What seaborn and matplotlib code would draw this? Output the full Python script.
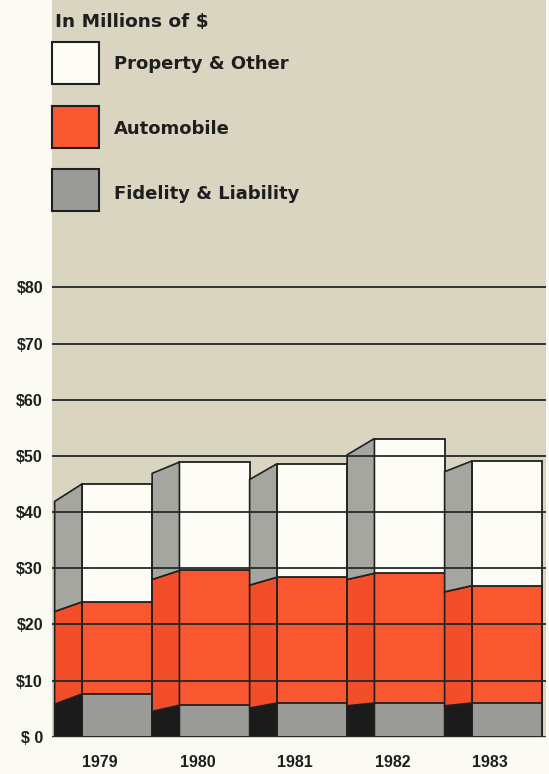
import matplotlib
matplotlib.use("Agg")
import matplotlib.pyplot as plt
import seaborn as sns
import pandas as pd
from matplotlib.patches import Rectangle, Polygon

# ---------------- data ($ millions) ----------------
years = ["1979", "1980", "1981", "1982", "1983"]
fidelity_liability = [7.6, 5.6, 6.0, 6.0, 6.0]
automobile = [16.4, 24.0, 22.4, 23.1, 20.9]
property_other = [21.0, 19.3, 20.2, 24.0, 22.2]
# cumulative heights at the far (left) edge of each receding side face
side_fidelity_top = [5.8, 4.5, 5.1, 5.5, 5.5]
side_automobile_top = [22.3, 28.0, 27.0, 28.0, 25.8]
side_total_top = [41.9, 46.9, 45.8, 50.2, 47.2]

y_ticks = [0, 10, 20, 30, 40, 50, 60, 70, 80]
y_tick_labels = ["$ 0", "$10", "$20", "$30", "$40", "$50", "$60", "$70", "$80"]
series_labels = ["Property & Other", "Automobile", "Fidelity & Liability"]
legend_title = "In Millions of $"

# ---------------- styles ----------------
W, H = 549, 774
PAPER = "#fbfaf3"
BEIGE = "#d9d5c1"
WHITE = "#fdfdf6"
ORANGE = "#f9572f"
ORANGE_SIDE = "#f14e29"
GRAY = "#9b9b97"
GRAY_SIDE = "#a6a6a0"
BLACK = "#1b1b1b"
EDGE = "#1f1f1f"
GRID = "#1f2a2a"
TEXT = "#1e1e1e"

sns.set_theme(style="white")
plt.rcParams["font.family"] = ["Liberation Sans", "DejaVu Sans"]

fig = plt.figure(figsize=(W / 100, H / 100), dpi=100, facecolor=PAPER)


def fx(px):
    return px / W


def fy(py):
    return 1 - py / H


# textured beige panel behind the chart
fig.patches.append(Rectangle((fx(52), fy(738)), fx(546) - fx(52), fy(0) - fy(738),
                             transform=fig.transFigure, facecolor=BEIGE,
                             edgecolor="none", zorder=-1))

y0_px = 736.7
px_per_unit = 5.615
ymax = 85
ax = fig.add_axes([fx(52), 1 - y0_px / H, fx(546) - fx(52), ymax * px_per_unit / H])
ax.patch.set_visible(False)

df = pd.DataFrame({"year": years,
                   "fid": fidelity_liability,
                   "auto": automobile,
                   "prop": property_other})
df["auto_top"] = df["fid"] + df["auto"]
df["total"] = df["auto_top"] + df["prop"]

bar_w = 0.72
depth = 0.28
for col, color in [("total", WHITE), ("auto_top", ORANGE), ("fid", GRAY)]:
    sns.barplot(data=df, x="year", y=col, color=color, saturation=1, width=bar_w,
                edgecolor=EDGE, linewidth=1.3, errorbar=None, ax=ax)

# receding left side faces
front_left = [p.get_x() for p in ax.patches[:len(years)]]
zeros = [0] * len(years)
layers = [
    (zeros, zeros, list(df["fid"]), side_fidelity_top, BLACK),
    (list(df["fid"]), side_fidelity_top, list(df["auto_top"]), side_automobile_top, ORANGE_SIDE),
    (list(df["auto_top"]), side_automobile_top, list(df["total"]), side_total_top, GRAY_SIDE),
]
for bf, bs, tf, ts, color in layers:
    for i, x0 in enumerate(front_left):
        poly = Polygon([(x0 - depth, bs[i]), (x0, bf[i]), (x0, tf[i]), (x0 - depth, ts[i])],
                       closed=True, facecolor=color, edgecolor=EDGE, linewidth=1.2)
        ax.add_patch(poly)

ax.set_xlim(-0.667, 4.40)
ax.set_ylim(0, ymax)
ax.set_yticks(y_ticks)
ax.set_yticklabels(y_tick_labels, fontweight="bold", fontsize=11.5, color=TEXT)
ax.set_xticks([i - 0.175 for i in range(len(years))])
ax.set_xticklabels(years, fontweight="bold", fontsize=11.5, color=TEXT)
ax.tick_params(axis="y", length=0, pad=6.5)
ax.tick_params(axis="x", length=0, pad=13)
ax.set_xlabel("")
ax.set_ylabel("")
for s in ax.spines.values():
    s.set_visible(False)
ax.yaxis.grid(True, color=GRID, linewidth=1.3)
ax.xaxis.grid(False)
ax.set_axisbelow(False)

# ---------------- legend ----------------
fig.text(fx(55), fy(27), legend_title, ha="left", va="baseline",
         family="DejaVu Sans", fontweight="bold", fontsize=13.3, color=TEXT)
legend_boxes = [(42, 84), (106, 148), (169, 211)]
legend_baselines = [69, 134, 199]
legend_colors = [WHITE, ORANGE, GRAY]
for (top, bot), base, color, label in zip(legend_boxes, legend_baselines, legend_colors, series_labels):
    fig.patches.append(Rectangle((fx(52), fy(bot)), fx(99) - fx(52), (bot - top) / H,
                                 transform=fig.transFigure, facecolor=color,
                                 edgecolor=EDGE, linewidth=1.5, zorder=1))
    fig.text(fx(113.5), fy(base), label, ha="left", va="baseline",
             family="DejaVu Sans", fontweight="bold", fontsize=13, color=TEXT)

fig.savefig("out.png", dpi=100, facecolor=fig.get_facecolor())
